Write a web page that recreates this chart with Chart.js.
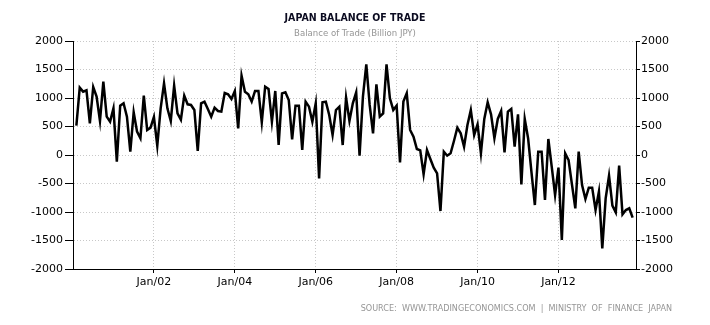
<!DOCTYPE html>
<html>
<head>
<meta charset="utf-8">
<title>Japan Balance of Trade</title>
<script src="https://cdn.jsdelivr.net/npm/chart.js@4.4.1/dist/chart.umd.min.js"></script>
<style>
  html, body { margin: 0; padding: 0; background: #fff; }
  canvas { display: block; }
</style>
</head>
<body>
<canvas id="chart" width="710" height="325"></canvas>
<script>
// Monthly balance of trade, billion JPY, Jan 2000 - Oct 2013
const balance = [
  515, 1182, 1111, 1135, 556, 1193, 1024, 597, 1287, 673, 585, 819,      // 2000
  -117, 866, 907, 673, 58, 749, 410, 293, 1041, 439, 480, 667,           // 2001
  164, 819, 1258, 819, 597, 1217, 731, 620, 1041, 889, 878, 790,         // 2002
  70, 907, 936, 807, 673, 831, 772, 761, 1088, 1065, 983, 1123,          // 2003
  468, 1392, 1111, 1065, 936, 1123, 1123, 573, 1199, 1158, 585, 1123,    // 2004
  175, 1082, 1100, 965, 275, 866, 866, 88, 936, 848, 585, 907,           // 2005
  -410, 924, 936, 702, 351, 790, 848, 175, 1006, 597, 907, 1100,         // 2006
  -12, 1024, 1591, 878, 380, 1240, 673, 731, 1591, 994, 790, 866,        // 2007
  -129, 936, 1082, 439, 322, 105, 82, -339, 88, -70, -222, -322,         // 2008
  -983, 58, -12, 29, 246, 480, 380, 146, 527, 790, 351, 538,             // 2009
  29, 632, 924, 713, 293, 632, 772, 47, 761, 807, 146, 713,              // 2010
  -515, 632, 293, -304, -878, 58, 58, -790, 281, -205, -702, -222,       // 2011
  -1492, 29, -88, -515, -936, 58, -527, -772, -573, -573, -965, -643,    // 2012
  -1638, -760, -363, -889, -1006, -187, -1041, -965, -936, -1100         // 2013
];

const firstYear = 2000;
const tickYears = [2002, 2004, 2006, 2008, 2010, 2012];
const tickLabels = ['Jan/02', 'Jan/04', 'Jan/06', 'Jan/08', 'Jan/10', 'Jan/12'];
const yMin = -2000;
const yMax = 2000;
const yStep = 500;

const title = 'JAPAN BALANCE OF TRADE';
const subtitle = 'Balance of Trade (Billion JPY)';
const source = 'SOURCE:  WWW.TRADINGECONOMICS.COM  |  MINISTRY  OF  FINANCE  JAPAN';

// x is months since Jan 1st of the first year; each value sits at the end of its month
const points = balance.map((v, i) => ({ x: i + 1, y: v }));
const tickMonths = tickYears.map(y => (y - firstYear) * 12);

// title, subtitle and source line
const chartText = {
  id: 'chartText',
  afterDraw(chart) {
    const ctx = chart.ctx;
    ctx.save();
    ctx.textAlign = 'center';
    ctx.textBaseline = 'middle';
    ctx.fillStyle = '#0b0b20';
    ctx.font = 'bold 10.5px "DejaVu Sans Condensed"';
    ctx.fillText(title, 355, 18.5);
    ctx.fillStyle = '#959595';
    ctx.font = '9.5px "DejaVu Sans Condensed"';
    ctx.fillText(subtitle, 355, 34);
    ctx.textAlign = 'right';
    ctx.font = '9px "DejaVu Sans Condensed"';
    ctx.fillText(source, 672, 309);
    ctx.restore();
  }
};

const tickFont = { family: '"DejaVu Sans", Verdana, sans-serif', size: 11 };

const axisBorder = { display: true, color: '#000', width: 1, dash: [1, 2] };

new Chart(document.getElementById('chart'), {
  type: 'line',
  data: {
    datasets: [{
      data: points,
      borderColor: '#000',
      borderWidth: 2.5,
      pointRadius: 0,
      tension: 0,
      fill: false
    }]
  },
  options: {
    responsive: false,
    animation: false,
    devicePixelRatio: 1,
    layout: { padding: { top: 41, left: 0, right: 0, bottom: 0 } },
    plugins: {
      legend: { display: false },
      tooltip: { enabled: false }
    },
    scales: {
      x: {
        type: 'linear',
        min: 0,
        max: 167,
        afterFit(scale) { scale.height = 56; },
        afterBuildTicks(scale) {
          scale.ticks = tickMonths.map(m => ({ value: m }));
        },
        ticks: {
          autoSkip: false,
          maxRotation: 0,
          padding: 3,
          color: '#000',
          font: tickFont,
          callback: v => tickLabels[tickMonths.indexOf(v)]
        },
        grid: {
          color: '#c8c8c8',
          tickColor: '#000',
          tickBorderDash: [],
          tickLength: 4,
          lineWidth: 1
        },
        border: axisBorder
      },
      y: {
        position: 'left',
        min: yMin,
        max: yMax,
        afterFit(scale) { scale.width = 73; },
        ticks: {
          stepSize: yStep,
          padding: 2,
          color: '#000',
          font: tickFont,
          callback: v => String(v)
        },
        grid: {
          color: '#c8c8c8',
          tickColor: '#000',
          tickBorderDash: [],
          tickLength: 8,
          lineWidth: 1
        },
        border: axisBorder
      },
      y2: {
        position: 'right',
        display: true,
        min: yMin,
        max: yMax,
        afterFit(scale) { scale.width = 74; },
        ticks: {
          stepSize: yStep,
          padding: 1,
          color: '#000',
          font: tickFont,
          callback: v => String(v)
        },
        grid: {
          drawOnChartArea: false,
          tickColor: '#000',
          tickBorderDash: [],
          tickLength: 4,
          lineWidth: 1
        },
        border: axisBorder
      }
    }
  },
  plugins: [chartText]
});
</script>
</body>
</html>
